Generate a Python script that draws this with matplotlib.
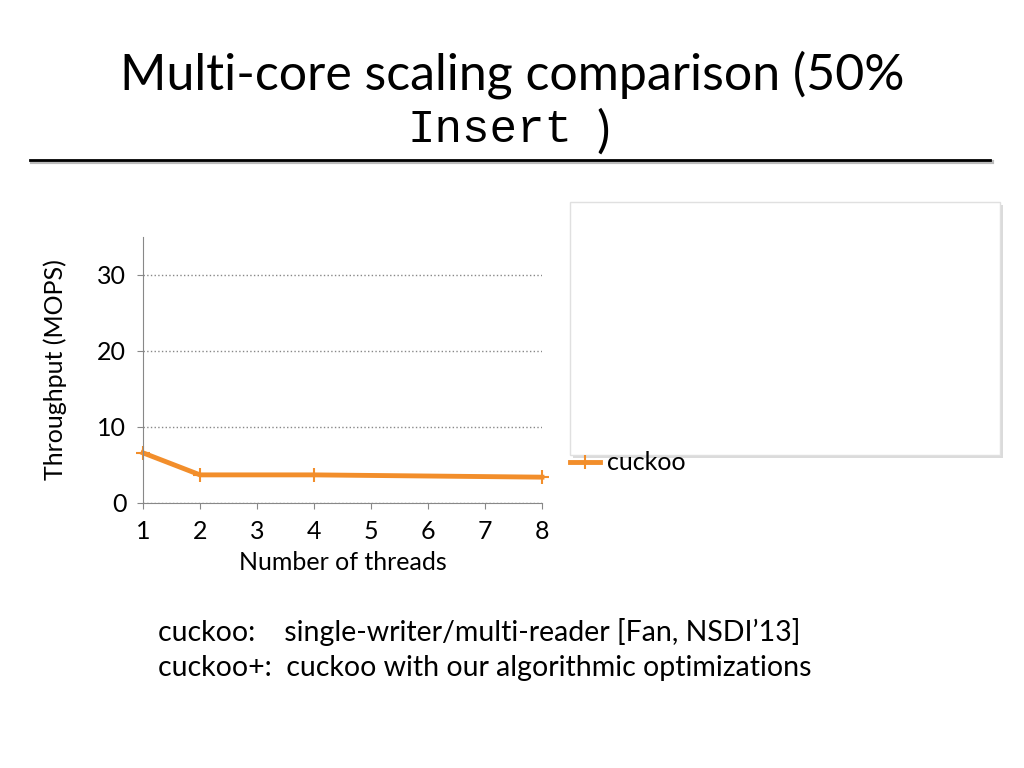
import matplotlib
matplotlib.use("Agg")
import matplotlib.pyplot as plt
from matplotlib.patches import Rectangle
from matplotlib.lines import Line2D

threads = [1, 2, 4, 8]
cuckoo = [6.6, 3.7, 3.7, 3.4]
xticks = [1, 2, 3, 4, 5, 6, 7, 8]
yticks = [0, 10, 20, 30]

plt.rcParams['font.family'] = ['Lato', 'DejaVu Sans']
fig = plt.figure(figsize=(10.24, 7.68), dpi=100)
W, H = 1024, 768
def fx(x): return x / W
def fy(y): return 1 - y / H

# Title
fig.text(fx(512), fy(75), "Multi-core scaling comparison (50%", ha='center', va='center', fontsize=36)
fig.text(fx(407), fy(130), "Insert", ha='left', va='center', fontsize=33, family='Liberation Mono')
fig.text(fx(596), fy(132), ")", ha='left', va='center', fontsize=36)
fig.add_artist(Line2D([fx(32), fx(992)], [fy(162), fy(162)], color='#bbbbbb', lw=3))
fig.add_artist(Line2D([fx(30), fx(990)], [fy(160), fy(160)], color='black', lw=2))

ax = fig.add_axes([fx(143), fy(503), fx(542) - fx(143), fy(237) - fy(503)])
ax.plot(threads, cuckoo, color='#f28e2b', lw=3.5, marker='+', ms=10, mew=1.5, label='cuckoo', clip_on=False)
ax.set_xlim(1, 8)
ax.set_ylim(0, 35)
ax.set_xticks(xticks)
ax.set_yticks(yticks)
ax.tick_params(labelsize=18, length=4, pad=8, colors='#888888', labelcolor='black')
ax.grid(axis='y', linestyle=':', color='#888888', lw=1)
for s in ['top', 'right']:
    ax.spines[s].set_visible(False)
for s in ['left', 'bottom']:
    ax.spines[s].set_color('#888888')
ax.set_xlabel("Number of threads", fontsize=18, labelpad=6)
ax.set_ylabel("Throughput (MOPS)", fontsize=18, labelpad=22)

# legend entry
fig.add_artist(Line2D([fx(570), fx(600)], [fy(462), fy(462)], color='#f28e2b', lw=3.5))
fig.add_artist(Line2D([fx(585)], [fy(462)], color='#f28e2b', marker='+', ms=10, mew=1.5))
fig.text(fx(607), fy(462), "cuckoo", fontsize=18, va='center')

# white box with shadow
fig.add_artist(Rectangle((fx(573), fy(458)), fx(1003) - fx(573), fy(205) - fy(458),
                         facecolor='#cccccc', edgecolor='none', alpha=0.7))
fig.add_artist(Rectangle((fx(570), fy(455)), fx(1000) - fx(570), fy(202) - fy(455),
                         facecolor='white', edgecolor='#e0e0e0', lw=1))

fig.text(fx(158), fy(632), "cuckoo:    single-writer/multi-reader [Fan, NSDI\u201913]", fontsize=20.5, va='center')
fig.text(fx(158), fy(668), "cuckoo+:  cuckoo with our algorithmic optimizations", fontsize=20.5, va='center')

fig.savefig("out.png", dpi=100)
